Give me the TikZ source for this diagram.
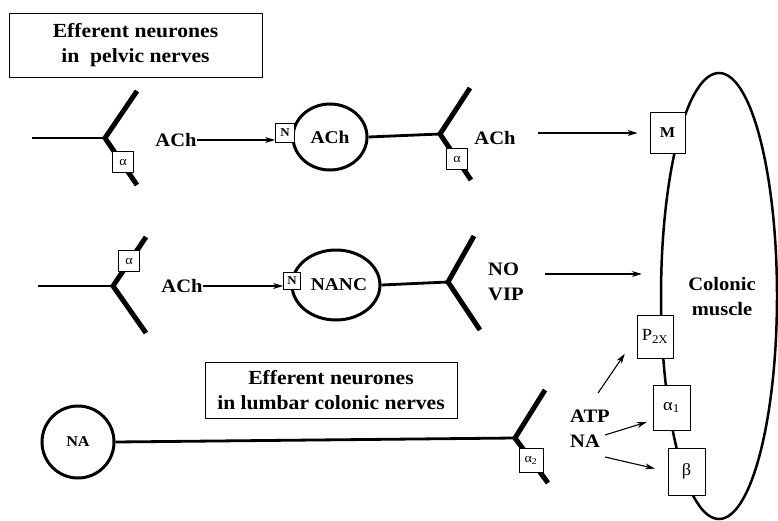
\documentclass[tikz,border=0pt]{standalone}
\usepackage{fontspec}
\setmainfont{Liberation Serif}[FakeStretch=1.08]
\usetikzlibrary{arrows.meta,shapes.geometric}
\begin{document}
\begin{tikzpicture}[x=1pt,y=-1pt,
  lbl/.style={font=\fontsize{19}{25}\selectfont\bfseries, inner sep=0pt, align=left},
  titlebox/.style={draw, line width=0.8pt, align=center, font=\fontsize{20}{25}\selectfont\bfseries, inner sep=0pt},
  axon/.style={line width=2.8pt},
  branch/.style={line width=5pt, line join=miter},
  soma/.style={draw, ellipse, line width=3pt, inner sep=0pt, font=\fontsize{18}{20}\selectfont\bfseries},
  rbox/.style={draw, fill=white, line width=0.8pt, inner sep=0pt, font=\fontsize{17}{17}\selectfont},
  sbox/.style={draw, fill=white, line width=0.8pt, minimum size=21pt, inner sep=0pt, font=\fontsize{13}{13}\selectfont},
  nbox/.style={draw, fill=white, line width=0.8pt, minimum size=19pt, inner sep=0pt, font=\fontsize{12}{12}\selectfont\bfseries},
  arr/.style={line width=1.1pt, -{Stealth[length=10pt,width=6pt]}}
]
\useasboundingbox (0,0) rectangle (778,521);

% title boxes
\node[titlebox, minimum width=253pt, minimum height=64pt] (t1) at (135.5,45) {Efferent neurones\\in\ \ pelvic nerves};
\node[titlebox, minimum width=252pt, minimum height=56pt] (t2) at (331,390) {Efferent neurones\\in lumbar colonic nerves};

% colonic muscle
\node[draw, ellipse, line width=2.5pt, minimum width=116pt, minimum height=446pt, inner sep=0pt] (muscle) at (719,296) {};
\node[lbl, align=center] (musclelbl) at (722,297) {Colonic\\muscle};
\node[rbox, minimum width=35pt, minimum height=41pt, font=\fontsize{15}{15}\selectfont\bfseries] (M) at (667.5,132.5) {M};
\node[rbox, minimum width=36pt, minimum height=43pt] (p2x) at (655,336.5) {P\textsubscript{2X}};
\node[rbox, minimum width=37pt, minimum height=45pt] (a1r) at (671.5,407.5) {α\textsubscript{1}};
\node[rbox, minimum width=37pt, minimum height=47pt] (br) at (686.5,471.5) {β};

% ---------- row 1 ----------
\coordinate (a1s) at (32,138);
\coordinate (b1) at (105,138);
\coordinate (b1u) at (137,91);
\coordinate (b1d) at (137,185);
\draw[axon] (a1s) -- (b1);
\draw[branch] (b1u) -- (b1) -- (b1d);
\node[sbox] (al1) at (123,162) {α};

\node[lbl] (ach1) at (176,140) {ACh};
\node[soma, minimum width=74pt, minimum height=66pt] (soma1) at (330,137) {ACh};
\node[nbox] (n1) at (285,133) {N};
\draw[arr] (ach1.east) -- (ach1.east -| n1.west);

\coordinate (b2) at (440,134);
\coordinate (b2u) at (470,88);
\coordinate (b2d) at (471,180);
\draw[axon] (soma1.east) -- (b2);
\draw[branch] (b2u) -- (b2) -- (b2d);
\node[sbox] (al2) at (457,159) {α};

\node[lbl] (ach2) at (495,138) {ACh};
\coordinate (s2) at (538,133);
\draw[arr, shorten >=12pt] (s2) -- (s2 -| M.west);

% ---------- row 2 ----------
\coordinate (a3s) at (38,286);
\coordinate (b3) at (113,286);
\coordinate (b3u) at (146,237);
\coordinate (b3d) at (146,333);
\draw[axon] (a3s) -- (b3);
\draw[branch] (b3u) -- (b3) -- (b3d);
\node[sbox] (al3) at (129,261) {α};

\node[lbl] (ach3) at (182,286) {ACh};
\node[soma, minimum width=76pt, minimum height=70pt] (soma2) at (336,285) {\hspace{6pt}NANC};
\node[nbox, minimum size=17pt] (n2) at (292,281) {N};
\draw[arr] (ach3.east) -- (ach3.east -| n2.west);

\coordinate (b4) at (448,282);
\coordinate (b4u) at (474,236);
\coordinate (b4d) at (480,330);
\draw[axon] (soma2.east) -- (b4);
\draw[branch] (b4u) -- (b4) -- (b4d);

\node[lbl, anchor=west] (novip) at (488,282) {NO\\VIP};
\coordinate (s4) at (545,274);
\draw[arr, shorten >=18pt] (s4) -- (s4 -| muscle.west);

% ---------- row 3 ----------
\node[draw, circle, line width=3pt, minimum size=72pt, inner sep=0pt, font=\fontsize{15}{15}\selectfont\bfseries] (na) at (78,442) {NA};
\coordinate (b5) at (515,438);
\coordinate (b5u) at (545,390);
\coordinate (b5d) at (548,483);
\draw[axon] (na.east) -- (b5);
\draw[branch] (b5u) -- (b5) -- (b5d);
\node[sbox, minimum size=24pt] (al4) at (531,460) {α\textsubscript{2}};

\node[lbl, anchor=west] (atpna) at (570,429) {ATP\\NA};
\coordinate (s5) at (598,393);
\coordinate (s6) at (605,435);
\coordinate (s7) at (605,457);
\draw[arr, shorten >=21pt] (s5) -- (p2x.west);
\draw[arr, shorten >=6pt] (s6) -- (a1r.214);
\draw[arr, shorten >=13pt] (s7) -- (br.west);
\end{tikzpicture}
\end{document}
